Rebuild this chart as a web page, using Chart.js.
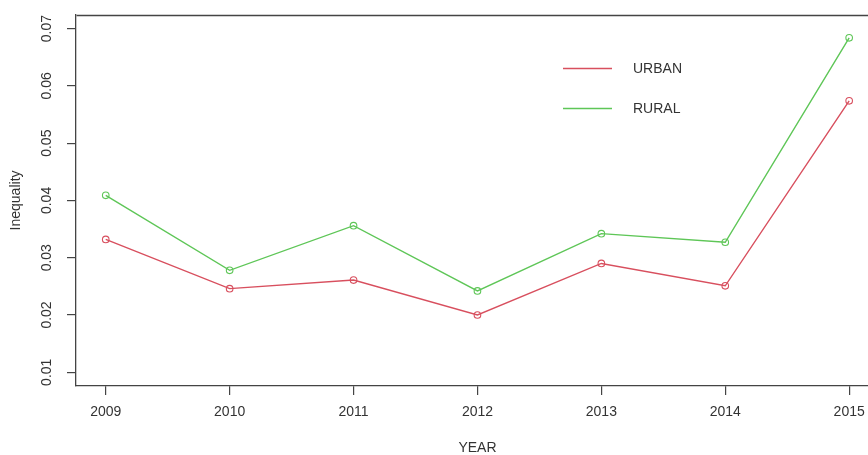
<!DOCTYPE html>
<html>
<head>
<meta charset="utf-8">
<script src="https://cdn.jsdelivr.net/npm/chart.js@4.4.1/dist/chart.umd.min.js"></script>
<style>
  html, body { margin: 0; padding: 0; background: #fff; overflow: hidden; }
  #wrap { width: 884px; height: 455px; }
</style>
</head>
<body>
<div id="wrap"><canvas id="chart" width="884" height="455"></canvas></div>
<script>
// Inequality by year, urban vs rural households
const years = [2009, 2010, 2011, 2012, 2013, 2014, 2015];
const urban = [0.0332, 0.0246, 0.0261, 0.0200, 0.0290, 0.0251, 0.0574];
const rural = [0.0409, 0.0278, 0.0356, 0.0242, 0.0342, 0.0327, 0.0684];
const yTicks = [0.01, 0.02, 0.03, 0.04, 0.05, 0.06, 0.07];
const seriesNames = ['URBAN', 'RURAL'];
const seriesColors = ['#D84F5E', '#5EC657'];

const FONT = '"Liberation Sans", Arial, sans-serif';
const INK = '#333333';
const AXIS = '#444444';

// R-style extents: 4% padding around the years and the 0.01–0.07 range
const xPad = (years[years.length - 1] - years[0]) * 0.04;
const yPad = (yTicks[yTicks.length - 1] - yTicks[0]) * 0.04;

function points(values) {
  return years.map((y, i) => ({ x: y, y: values[i] }));
}

// closes the plot box on the top and right sides
const boxPlugin = {
  id: 'plotBox',
  afterDraw(chart) {
    const { ctx, chartArea: a } = chart;
    ctx.save();
    ctx.strokeStyle = AXIS;
    ctx.lineWidth = 1.3;
    ctx.beginPath();
    ctx.moveTo(Math.round(a.left) + 0.5, Math.round(a.top) + 0.5);
    ctx.lineTo(Math.round(a.right) + 0.5, Math.round(a.top) + 0.5);
    ctx.lineTo(Math.round(a.right) + 0.5, Math.round(a.bottom) + 0.5);
    ctx.stroke();
    ctx.restore();
  }
};

// borderless key inside the plot area
const keyPlugin = {
  id: 'plotKey',
  afterDraw(chart) {
    const { ctx } = chart;
    ctx.save();
    chart.data.datasets.forEach((ds, i) => {
      const y = 68 + i * 40;
      ctx.strokeStyle = ds.borderColor;
      ctx.lineWidth = 1.4;
      ctx.beginPath();
      ctx.moveTo(563, y + 0.5);
      ctx.lineTo(612, y + 0.5);
      ctx.stroke();
      ctx.fillStyle = INK;
      ctx.font = '14px ' + FONT;
      ctx.textBaseline = 'middle';
      ctx.textAlign = 'left';
      ctx.fillText(ds.label, 633, y + 1);
    });
    ctx.restore();
  }
};

const datasets = [urban, rural].map((vals, i) => ({
  label: seriesNames[i],
  data: points(vals),
  borderColor: seriesColors[i],
  backgroundColor: 'rgba(0,0,0,0)',
  borderWidth: 1.4,
  pointRadius: 3.3,
  pointBorderWidth: 1.1,
  pointBorderColor: seriesColors[i],
  pointBackgroundColor: 'rgba(0,0,0,0)',
  tension: 0
}));

new Chart(document.getElementById('chart'), {
  type: 'line',
  data: { datasets },
  plugins: [boxPlugin, keyPlugin],
  options: {
    responsive: false,
    animation: false,
    layout: { padding: { top: 13, right: 4, left: 0, bottom: 0 } },
    plugins: { legend: { display: false }, tooltip: { enabled: false } },
    scales: {
      x: {
        type: 'linear',
        min: years[0] - xPad,
        max: years[years.length - 1] + xPad,
        afterBuildTicks(scale) { scale.ticks = years.map(v => ({ value: v })); },
        afterFit(scale) { scale.height = 69; },
        grid: { drawOnChartArea: false, drawTicks: true, tickLength: 9, color: AXIS, lineWidth: 1.2 },
        border: { display: true, color: AXIS, width: 1.3 },
        ticks: {
          autoSkip: false, maxRotation: 0, minRotation: 0, padding: 9,
          color: INK, font: { family: FONT, size: 14 },
          callback: v => String(v)
        },
        title: {
          display: true, text: 'YEAR', color: INK,
          font: { family: FONT, size: 14 }, padding: { top: 0, bottom: -1.5 }
        }
      },
      y: {
        type: 'linear',
        min: yTicks[0] - yPad,
        max: yTicks[yTicks.length - 1] + yPad,
        afterBuildTicks(scale) { scale.ticks = yTicks.map(v => ({ value: v })); },
        afterFit(scale) { scale.width = 76; },
        grid: { drawOnChartArea: false, drawTicks: true, tickLength: 9, color: AXIS, lineWidth: 1.2 },
        border: { display: true, color: AXIS, width: 1.3 },
        ticks: {
          minRotation: 90, maxRotation: 90, crossAlign: 'center', padding: 6.5,
          color: INK, font: { family: FONT, size: 14 },
          callback: v => v.toFixed(2)
        },
        title: {
          display: true, text: 'Inequality', color: INK,
          font: { family: FONT, size: 14 }, padding: { top: 7.6, bottom: 0 }
        }
      }
    }
  }
});
</script>
</body>
</html>
